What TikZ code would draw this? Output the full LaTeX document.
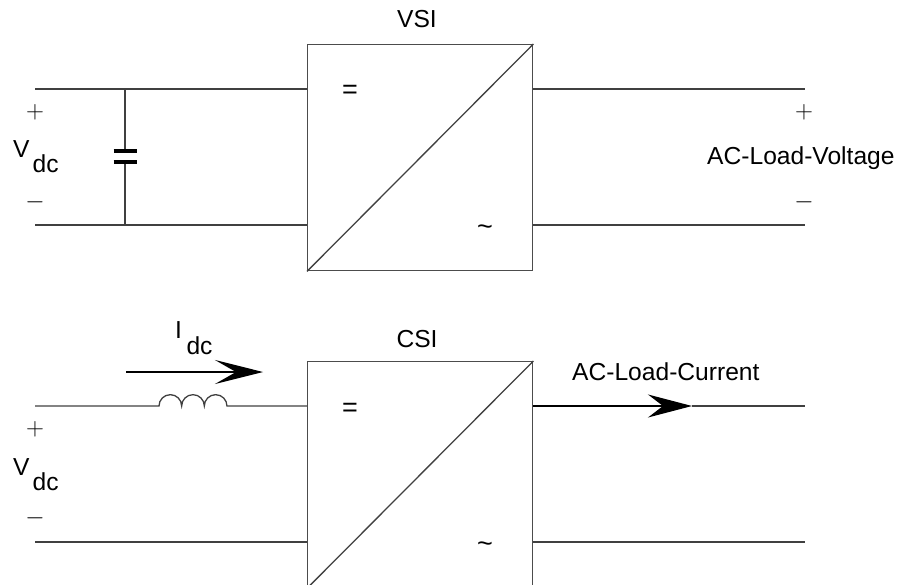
\documentclass[tikz,border=0pt]{standalone}
\usepackage{fontspec}
\setmainfont{Liberation Sans}
\usetikzlibrary{arrows.meta}
\begin{document}
\begin{tikzpicture}[x=1pt,y=-1pt,
  wire/.style={line width=1.3pt, draw=black!75},
  conv/.style={draw=black!70, line width=1.4pt, minimum width=225pt, minimum height=226pt, inner sep=0pt, anchor=north west},
  lbl/.style={font=\fontsize{24.6}{28}\selectfont, inner sep=0pt},
  sym/.style={font=\fontsize{27}{30}\selectfont, inner sep=0pt},
  pm/.style={font=\fontsize{23}{26}\selectfont, inner sep=0pt, text=black},
  plate/.style={line width=4pt, draw=black},
  arr/.style={line width=1.3pt, draw=black, fill=black},
]
\clip (0,0) rectangle (901,585);
% converters
\node[conv] (vsi) at (307,44) {};
\draw[wire] (vsi.south west) -- (vsi.north east);
\node[conv] (csi) at (307,361) {};
\draw[wire] (csi.south west) -- (csi.north east);
\node[lbl, anchor=base] (vsil) at (417,28) {VSI};
\node[lbl, anchor=base] (csil) at (417,347) {CSI};
\node[sym, anchor=base] (eq1) at (350,99) {=};
\node[sym, anchor=base] (ac1) at (485,236) {\char`\~};
\node[sym, anchor=base] (eq2) at (350,416) {=};
\node[sym, anchor=base] (ac2) at (485,552) {\char`\~};
% top left
\coordinate (l1) at (35,89);
\coordinate (l2) at (35,225);
\draw[wire] (l1) -- (l1 -| vsi.west);
\draw[wire] (l2) -- (l2 -| vsi.west);
\coordinate (c1) at (125,89);
\coordinate (c2) at (125,225);
\coordinate (p1) at (125,151);
\coordinate (p2) at (125,162);
\draw[wire] (c1) -- (p1);
\draw[wire] (p2) -- (c2);
\draw[plate] ([xshift=-11.5pt]p1) -- ([xshift=11.5pt]p1);
\draw[plate] ([xshift=-11.5pt]p2) -- ([xshift=11.5pt]p2);
\node[pm] (plus1) at (35,112) {$+$};
\node[pm] (minus1) at (35,202) {$-$};
\node[lbl, anchor=base west] (vdc1) at (13,158) {V\kern3pt\raisebox{-15pt}{dc}};
% top right
\coordinate (r1) at (805,89);
\coordinate (r2) at (805,225);
\draw[wire] (vsi.east |- r1) -- (r1);
\draw[wire] (vsi.east |- r2) -- (r2);
\node[pm] (plus2) at (804,112) {$+$};
\node[pm] (minus2) at (804,202) {$-$};
\node[lbl, anchor=base west] (acv) at (707,165) {AC-Load-Voltage};
% bottom left
\coordinate (l3) at (35,406);
\coordinate (l4) at (35,542);
\coordinate (ind) at (159,406);
\draw[wire] (l3) -- (ind)
  arc[start angle=180, end angle=360, x radius=11.33, y radius=11.33]
  arc[start angle=180, end angle=360, x radius=11.33, y radius=11.33]
  arc[start angle=180, end angle=360, x radius=11.33, y radius=11.33]
  -- (ind -| csi.west);
\draw[wire] (l4) -- (l4 -| csi.west);
\node[pm] (plus3) at (35,429) {$+$};
\node[pm] (minus3) at (35,518) {$-$};
\node[lbl, anchor=base west] (vdc2) at (13,475) {V\kern3pt\raisebox{-15pt}{dc}};
\coordinate (ia) at (126,372);
\coordinate (ib) at (263,372);
\draw[arr, -{Stealth[length=48pt,width=24pt,inset=21pt]}] (ia) -- (ib);
\node[lbl, anchor=base west] (idc) at (175,338) {I\kern4.5pt\raisebox{-16pt}{dc}};
% bottom right
\coordinate (tip) at (692,406);
\coordinate (r3) at (805,406);
\coordinate (r4) at (805,542);
\draw[arr, -{Stealth[length=44pt,width=23pt,inset=15pt]}] (csi.east |- r3) -- (tip);
\draw[wire] (tip) -- (r3);
\draw[wire] (csi.east |- r4) -- (r4);
\node[lbl, anchor=base west] (acc) at (572,380) {AC-Load-Current};
\end{tikzpicture}
\end{document}
